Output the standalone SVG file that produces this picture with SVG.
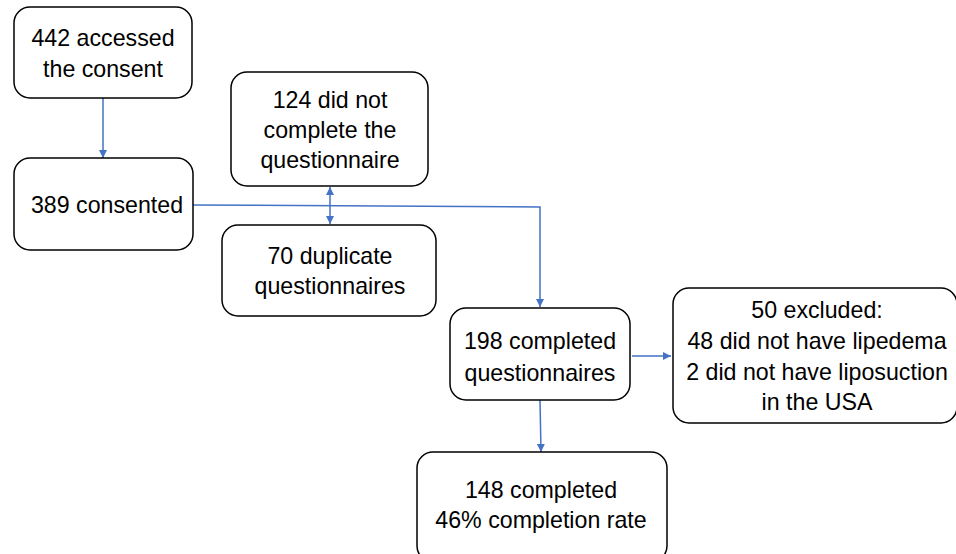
<svg xmlns="http://www.w3.org/2000/svg" width="956" height="554" viewBox="0 0 956 554">
<style>
.box{fill:#fff;stroke:#000;stroke-width:1.5}
.t{font-family:"Liberation Sans",Arial,sans-serif;font-size:23.2px;fill:#000;text-anchor:middle}
.c{fill:none;stroke:#4472C4;stroke-width:1.5}
</style>
<defs>
<marker id="ah" viewBox="0 0 10 10" refX="10" refY="5" markerWidth="8" markerHeight="8" markerUnits="userSpaceOnUse" orient="auto-start-reverse">
<path d="M0,0 L10,5 L0,10 z" fill="#4472C4"/>
</marker>
</defs>
<rect width="956" height="554" fill="#fff"/>
<g id="connectors">
<line class="c" x1="103" y1="98" x2="103" y2="158" marker-end="url(#ah)"/>
<line class="c" x1="330" y1="187" x2="330" y2="224" marker-start="url(#ah)" marker-end="url(#ah)"/>
<polyline class="c" points="193,205 540,207 540,307" marker-end="url(#ah)"/>
<line class="c" x1="632" y1="356" x2="671" y2="356" marker-end="url(#ah)"/>
<line class="c" x1="540" y1="400" x2="541" y2="452" marker-end="url(#ah)"/>
</g>
<g id="n1">
<rect class="box" x="14" y="7" width="178" height="91" rx="16"/>
<text class="t" x="103" y="46">442 accessed</text>
<text class="t" x="103" y="77">the consent</text>
</g>
<g id="n2">
<rect class="box" x="14" y="158" width="179" height="92" rx="16"/>
<text class="t" x="107" y="213">389 consented</text>
</g>
<g id="n3">
<rect class="box" x="231" y="72" width="197" height="114" rx="16"/>
<text class="t" x="330" y="108">124 did not</text>
<text class="t" x="330" y="138">complete the</text>
<text class="t" x="330" y="168">questionnaire</text>
</g>
<g id="n4">
<rect class="box" x="222" y="225" width="214" height="91" rx="16"/>
<text class="t" x="330" y="264">70 duplicate</text>
<text class="t" x="330" y="294">questionnaires</text>
</g>
<g id="n5">
<rect class="box" x="450" y="308" width="180" height="92" rx="16"/>
<text class="t" x="540" y="349">198 completed</text>
<text class="t" x="540" y="381">questionnaires</text>
</g>
<g id="n6">
<rect class="box" x="417" y="452" width="250" height="110" rx="16"/>
<text class="t" x="541" y="498">148 completed</text>
<text class="t" x="541" y="528">46% completion rate</text>
</g>
<g id="n7">
<rect class="box" x="673" y="288" width="284" height="135" rx="16"/>
<text class="t" x="817" y="318">50 excluded:</text>
<text class="t" x="817" y="349">48 did not have lipedema</text>
<text class="t" x="817" y="380">2 did not have liposuction</text>
<text class="t" x="817" y="410">in the USA</text>
</g>
</svg>
